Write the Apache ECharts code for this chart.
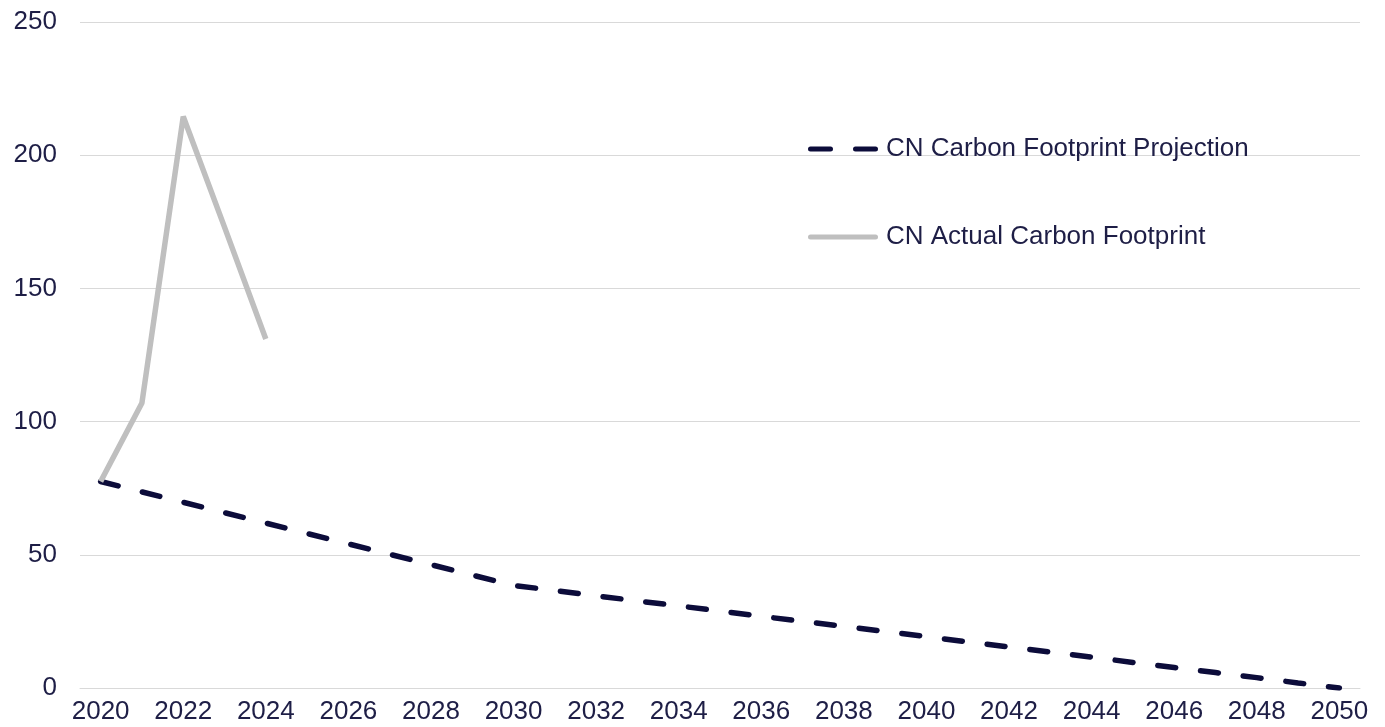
<!DOCTYPE html>
<html>
<head>
<meta charset="utf-8">
<title>CN Carbon Footprint</title>
<script src="https://cdn.jsdelivr.net/npm/echarts@6/dist/echarts.min.js"></script>
<style>
  html, body { margin: 0; padding: 0; background: #fff; }
  #chart { width: 1385px; height: 727px; }
</style>
</head>
<body>
<div id="chart"></div>
<script>
  // years on the x axis
  const years = [];
  for (let y = 2020; y <= 2050; y++) years.push(String(y));

  const projection = [
    77.5, 73.6, 69.7, 65.8, 61.9, 58.0, 54.1, 50.2, 46.3, 42.4,
    38.5, 36.6, 34.6, 32.7, 30.8, 28.9, 26.9, 25.0, 23.1, 21.2,
    19.3, 17.3, 15.4, 13.5, 11.6, 9.6, 7.7, 5.8, 3.9, 1.9, 0
  ];
  const actual = [77.5, 107, 214.5, 173, 131];

  const yTicks = { min: 0, max: 250, interval: 50 };

  const navy = '#0c0c3a';
  const grey = '#bfbfbf';
  const textColor = '#1e1e46';
  const font = '"Liberation Sans", Arial, sans-serif';

  // legend icons (70 x 5): two dashes / one solid bar
  const dashIcon = 'path://M2.5,0 H22.5 A2.5,2.5 0 0 1 22.5,5 H2.5 A2.5,2.5 0 0 1 2.5,0 Z M47.5,0 H67.5 A2.5,2.5 0 0 1 67.5,5 H47.5 A2.5,2.5 0 0 1 47.5,0 Z';
  const solidIcon = 'path://M2.5,0 H67.5 A2.5,2.5 0 0 1 67.5,5 H2.5 A2.5,2.5 0 0 1 2.5,0 Z';

  const chart = echarts.init(document.getElementById('chart'));

  const option = {
    animation: false,
    grid: {
      left: 80,
      right: 25,
      top: 22,
      bottom: 39,
    },
    legend: {
      orient: 'vertical',
      left: 803,
      top: 131,
      itemWidth: 70,
      itemHeight: 5,
      itemGap: 62,
      textStyle: {
        fontFamily: font,
        fontSize: 26,
        color: textColor,
        padding: [0, 0, 0, 3],
      },
      data: [
        { name: 'CN Carbon Footprint Projection', icon: dashIcon },
        { name: 'CN Actual Carbon Footprint', icon: solidIcon },
      ],
    },
    xAxis: {
      type: 'category',
      data: years,
      boundaryGap: true,
      axisLine: { lineStyle: { color: '#d9d9d9' } },
      axisTick: { show: false },
      axisLabel: {
        interval: 1,
        margin: 11,
        fontFamily: font,
        fontSize: 26,
        color: textColor,
      },
    },
    yAxis: {
      type: 'value',
      min: yTicks.min,
      max: yTicks.max,
      interval: yTicks.interval,
      axisLine: { show: false },
      axisTick: { show: false },
      splitLine: { lineStyle: { color: '#d9d9d9' } },
      axisLabel: {
        margin: 23,
        fontFamily: font,
        fontSize: 26,
        color: textColor,
      },
    },
    series: [
      {
        name: 'CN Carbon Footprint Projection',
        type: 'line',
        data: projection,
        symbol: 'none',
        itemStyle: { color: navy },
        lineStyle: {
          color: navy,
          width: 5.5,
          type: [18, 25],
          cap: 'round',
        },
      },
      {
        name: 'CN Actual Carbon Footprint',
        type: 'line',
        data: actual,
        symbol: 'none',
        itemStyle: { color: grey },
        lineStyle: {
          color: grey,
          width: 5.5,
        },
      },
    ],
  };

  chart.setOption(option);
</script>
</body>
</html>
